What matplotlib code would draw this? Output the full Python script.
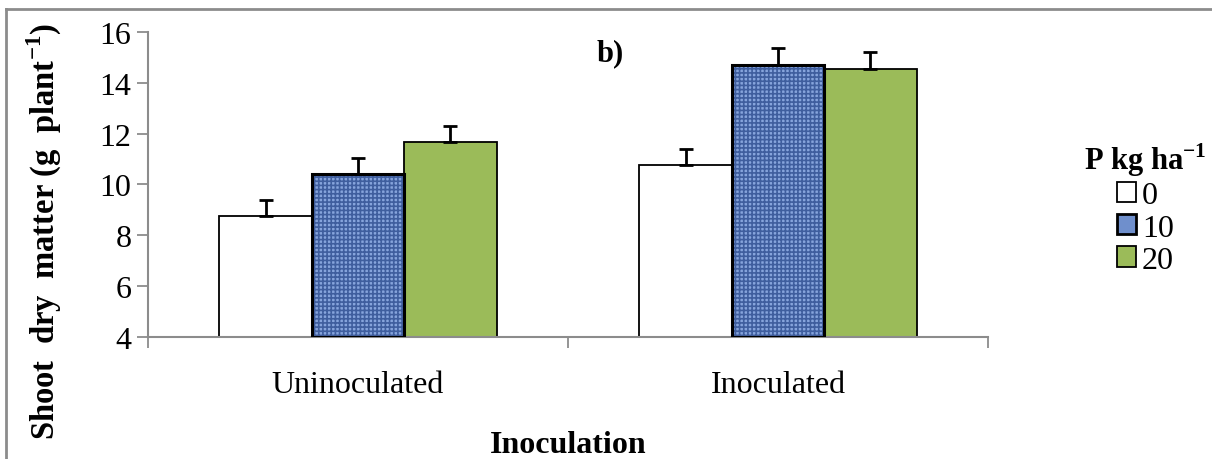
import matplotlib
matplotlib.use("Agg")
import matplotlib.pyplot as plt
from matplotlib.patches import Rectangle
from matplotlib.lines import Line2D
import numpy as np

plt.rcParams["font.family"] = ["Liberation Serif", "DejaVu Serif"]
plt.rcParams["mathtext.fontset"] = "custom"
plt.rcParams["mathtext.rm"] = "Liberation Serif"
plt.rcParams["mathtext.bf"] = "Liberation Serif:bold"
plt.rcParams["hatch.linewidth"] = 1.2

categories = ["Uninoculated", "Inoculated"]
levels = ["0", "10", "20"]
means = {
    "0": [8.75, 10.77],
    "10": [10.42, 14.71],
    "20": [11.68, 14.55],
}
errors = {
    "0": [0.63, 0.63],
    "10": [0.63, 0.66],
    "20": [0.62, 0.66],
}

fig = plt.figure(figsize=(12.12, 4.6), dpi=100)
ax = fig.add_axes([0.1221, 0.2652, 0.6931, 0.6631])

# grey frame (top and left edges visible)
frame_col = "#8c8c8c"
fig.lines.append(Line2D([0.005, 1.0], [0.978, 0.978], transform=fig.transFigure,
                        color=frame_col, linewidth=2))
fig.lines.append(Line2D([0.005, 0.005], [0.0, 0.978], transform=fig.transFigure,
                        color=frame_col, linewidth=2))

x = np.arange(len(categories))
width = 0.22
offsets = [-width, 0, width]

for lvl, off in zip(levels, offsets):
    pos = x + off
    vals = means[lvl]
    heights = [v - 4 for v in vals]
    err = [[0] * len(vals), errors[lvl]]
    if lvl == "0":
        ax.bar(pos, heights, width, bottom=4, color="white",
               edgecolor="black", linewidth=1.3, zorder=2)
    elif lvl == "10":
        ax.bar(pos, heights, width, bottom=4, color="#86a4dc",
               edgecolor="#3f5e9e", hatch="++++", linewidth=0, zorder=2)
        ax.bar(pos, heights, width, bottom=4, fill=False,
               edgecolor="black", linewidth=2.2, zorder=3)
    else:
        ax.bar(pos, heights, width, bottom=4, color="#9bbb59",
               edgecolor="black", linewidth=1.3, zorder=2)
    ax.errorbar(pos, vals, yerr=err, fmt="none", ecolor="black",
                elinewidth=2, capsize=5, capthick=2, zorder=4)

# legend proxies
handles = [
    Rectangle((0, 0), 1, 1, facecolor="white", edgecolor="black", linewidth=1.3),
    Rectangle((0, 0), 1, 1, facecolor="#6f8fcc", edgecolor="black", linewidth=2),
    Rectangle((0, 0), 1, 1, facecolor="#9bbb59", edgecolor="black", linewidth=1.3),
]
leg = fig.legend(handles, levels, title="P kg ha$^{\\mathbf{-1}}$",
                 loc="upper right", bbox_to_anchor=(1.006, 0.72), frameon=False,
                 fontsize=23, handlelength=0.6, handleheight=0.6, handletextpad=0.2,
                 labelspacing=0.1, borderaxespad=0)
leg.get_title().set_fontsize(22)
leg.get_title().set_fontweight("bold")

ax.set_ylim(4, 16)
ax.set_xlim(-0.5, 1.5)
ax.set_yticks(np.arange(4, 17, 2))
ax.set_xticks(x)
ax.set_xticklabels(categories)
ax.set_xticks([-0.5, 0.5, 1.5], minor=True)
ax.tick_params(axis="x", which="major", length=0, pad=24, labelsize=23)
ax.tick_params(axis="x", which="minor", length=8, color=frame_col, width=1.3)
ax.tick_params(axis="y", length=8, color=frame_col, width=1.3, labelsize=23, pad=4)

for side in ["top", "right"]:
    ax.spines[side].set_visible(False)
for side in ["left", "bottom"]:
    ax.spines[side].set_color(frame_col)
    ax.spines[side].set_linewidth(1.5)

ax.set_ylabel("Shoot  dry  matter (g  plant$^{\\mathbf{-1}}$)", fontsize=23.5,
              fontweight="bold")
ax.yaxis.set_label_coords(-0.1, 0.35)
ax.set_xlabel("Inoculation", fontsize=23, fontweight="bold")
ax.xaxis.set_label_coords(0.5, -0.305)
ax.text(0.6, 15.2, "b)", fontsize=22, fontweight="bold", ha="center", va="center")

fig.savefig("out.png", dpi=100)
